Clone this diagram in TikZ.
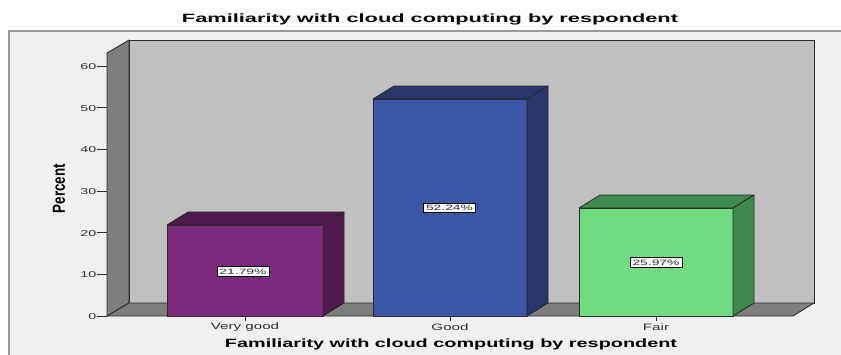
\documentclass[tikz,border=0pt]{standalone}
\usepackage{fontspec}
\setmainfont{Liberation Sans}
\usepackage{graphicx}
\definecolor{bgc}{HTML}{F0F0F0}
\definecolor{framec}{HTML}{9A9A9A}
\definecolor{backc}{HTML}{C0C0C0}
\definecolor{wallc}{HTML}{7E7E7E}
\definecolor{edgec}{HTML}{2A2A2A}
\definecolor{purF}{HTML}{7D2A7E}
\definecolor{purS}{HTML}{501A4F}
\definecolor{bluF}{HTML}{3E56A8}
\definecolor{bluS}{HTML}{28366A}
\definecolor{grnF}{HTML}{70DC82}
\definecolor{grnS}{HTML}{3F8B4E}
\definecolor{tickc}{HTML}{2E2E2E}
\newcommand{\wtxt}[3]{\scalebox{#1}[1]{\fontsize{#2}{#2}\selectfont #3}}
\tikzset{
  wall/.style={fill=wallc, draw=edgec, line width=0.8pt, line join=round},
  backwall/.style={fill=backc, draw=edgec, line width=0.8pt},
  barface/.style={draw=edgec, line width=0.8pt, line join=round},
  ticklab/.style={text=tickc, anchor=east, inner sep=0.5pt},
  catlab/.style={text=tickc, inner sep=0.5pt},
  vallab/.style={text=tickc, fill=white, draw=black, line width=0.6pt, inner sep=0.5pt, minimum width=52pt, minimum height=9.5pt},
  axtick/.style={draw=tickc, line width=0.6pt},
}
\newcommand{\mybar}[5]{% x1, x2, top, front colour, side colour
  \fill[#4] (#1,#3) rectangle (#2,316);
  \draw[barface] (#1,#3) rectangle (#2,316);
  \filldraw[barface, fill=#5] (#1,#3) -- ++(21,-13) -- ++({#2-#1},0) -- (#2,#3) -- cycle;
  \filldraw[barface, fill=#5] (#2,#3) -- ++(21,-13) -- (#2+21,303) -- (#2,316) -- cycle;
}
\begin{document}
\begin{tikzpicture}[x=1pt,y=-1pt]
\useasboundingbox (0,0) rectangle (841,354);
\clip (0,0) rectangle (841,354);
\fill[white] (0,0) rectangle (841,354);
% chart frame
\filldraw[fill=bgc, draw=framec, line width=1.2pt] (9,31) rectangle (850,370);
% titles
\node (title) at (430,19) {\resizebox{496pt}{\height}{\bfseries\fontsize{12}{14}\selectfont Familiarity with cloud computing by respondent}};
\node (xtitle) at (451,344) {\resizebox{452pt}{\height}{\bfseries\fontsize{12}{14}\selectfont Familiarity with cloud computing by respondent}};
\node (ytitle) at (59,188.5) [rotate=90, inner sep=0pt] {\resizebox{49pt}{12pt}{\bfseries Percent}};
% walls
\draw[backwall] (129,40) rectangle (814,303);
\draw[wall] (107,316) -- (107,53) -- (129,40) -- (129,303) -- cycle;
\draw[wall] (107,316) -- (129,303) -- (814,303) -- (793,316) -- cycle;
% y ticks
\foreach \v in {0,10,...,60}{
  \pgfmathsetmacro{\yy}{316-4.167*\v}
  \draw[axtick] (97,\yy) -- (107,\yy);
  \node[ticklab] at (97,\yy+0.5) {\wtxt{1.68}{8.5}{\v}};
}
% bars
\mybar{167}{323}{225}{purF}{purS}
\mybar{373}{527}{99}{bluF}{bluS}
\mybar{579}{733}{208}{grnF}{grnS}
% value labels
\node[vallab] (v1) at (243,271.5) {\wtxt{1.8}{7.7}{21.79\%}};
\node[vallab] (v2) at (449.5,208) {\wtxt{1.8}{7.7}{52.24\%}};
\node[vallab] (v3) at (656,262.5) {\wtxt{1.8}{7.7}{25.97\%}};
% category ticks and labels
\foreach \cx/\nm/\lab in {245/c1/Very good,450/c2/Good,656/c3/Fair}{
  \draw[axtick] (\cx,317) -- (\cx,321);
  \node[catlab] (\nm) at (\cx,327.5) {\wtxt{1.63}{9.3}{\lab}};
}
\end{tikzpicture}
\end{document}
